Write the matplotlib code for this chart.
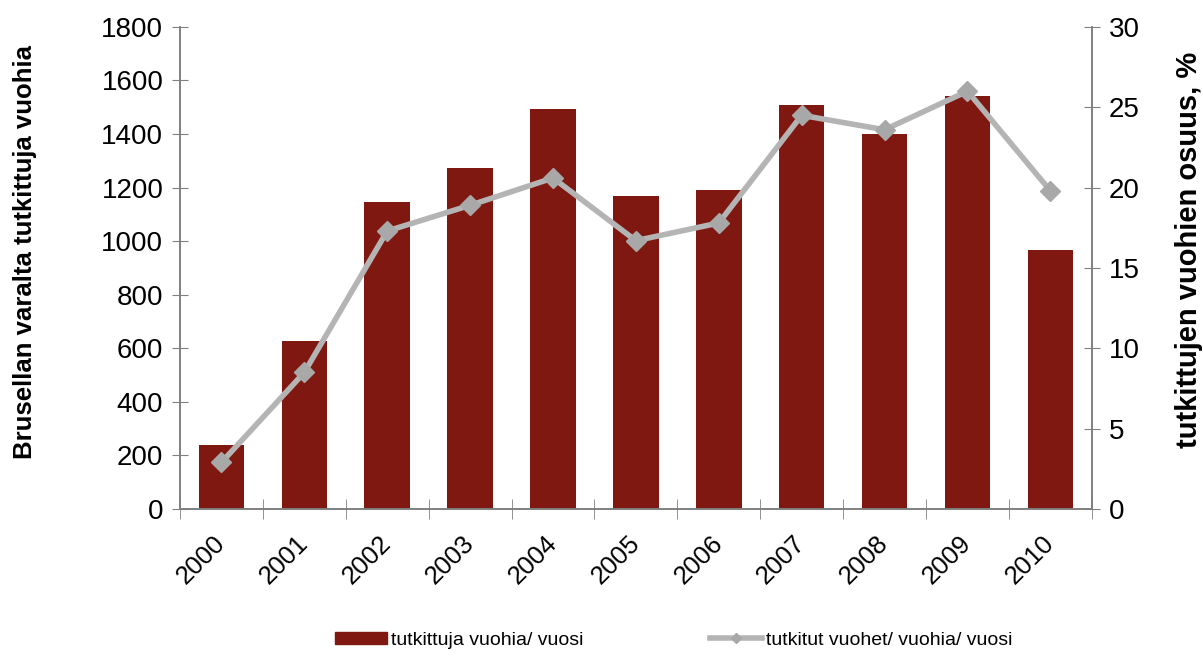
import matplotlib.pyplot as plt
from matplotlib.patches import Patch
from matplotlib.lines import Line2D

plt.rcParams['font.family'] = ['Liberation Sans', 'DejaVu Sans']

years = ['2000', '2001', '2002', '2003', '2004', '2005', '2006', '2007', '2008', '2009', '2010']
goats = [240, 628, 1145, 1275, 1495, 1168, 1190, 1510, 1400, 1543, 968]
share = [2.9, 8.5, 17.3, 18.9, 20.6, 16.7, 17.8, 24.5, 23.6, 26.0, 19.8]

bar_col = '#7f1810'
line_col = '#b4b4b4'
axis_col = '#808080'

fig = plt.figure(figsize=(12.03, 6.56), dpi=100)
ax = fig.add_axes([0.1496, 0.224, 0.758, 0.735])
ax2 = ax.twinx()

x = range(len(years))
ax.bar(x, goats, width=0.55, color=bar_col, zorder=2)
ax2.plot(x, share, color=line_col, lw=4, marker='D', ms=10,
         markerfacecolor='#a8a8a8', markeredgecolor='#a8a8a8', zorder=3)

ax.set_xlim(-0.5, len(years) - 0.5)
ax.set_ylim(0, 1800)
ax.set_yticks(range(0, 1801, 200))
ax2.set_ylim(0, 30)
ax2.set_yticks(range(0, 31, 5))

ax.set_xticks(x)
ax.set_xticklabels(years, rotation=45, ha='right', va='center',
                   rotation_mode='anchor', fontsize=18.5)
ax.set_xticks([i + 0.5 for i in range(-1, len(years))], minor=True)
ax.tick_params(axis='x', which='major', length=0, pad=22)
ax.tick_params(axis='x', which='minor', direction='inout', length=14, color=axis_col)
ax.tick_params(axis='y', direction='inout', length=12, color=axis_col, labelsize=20, pad=6)
ax2.tick_params(axis='y', direction='inout', length=12, color=axis_col, labelsize=20, pad=6)

for a in (ax, ax2):
    a.spines['top'].set_visible(False)
    for s in ('left', 'right', 'bottom'):
        a.spines[s].set_color(axis_col)
        a.spines[s].set_linewidth(1.2)

ax.set_ylabel('Brusellan varalta tutkittuja vuohia', fontsize=18.5, fontweight='bold')
ax.yaxis.set_label_coords(-0.157, 0.533)
ax2.set_ylabel('tutkittujen vuohien osuus, %', fontsize=21, fontweight='bold')
ax2.yaxis.set_label_coords(1.091, 0.537)

ax2.set_zorder(ax.get_zorder() + 1)
ax2.patch.set_visible(False)

handles = [Patch(color=bar_col),
           Line2D([], [], color=line_col, lw=4, marker='D', ms=5,
                  markerfacecolor='#a8a8a8', markeredgecolor='#a8a8a8')]
labels = ['tutkittuja vuohia/ vuosi', 'tutkitut vuohet/ vuohia/ vuosi']
fig.legend(handles, labels, loc='center', bbox_to_anchor=(0.56, 0.024), ncol=2,
           frameon=False, fontsize=14, handlelength=2.67, handleheight=0.6,
           handletextpad=0.2, columnspacing=6.5)

fig.savefig('out.png', dpi=100)
